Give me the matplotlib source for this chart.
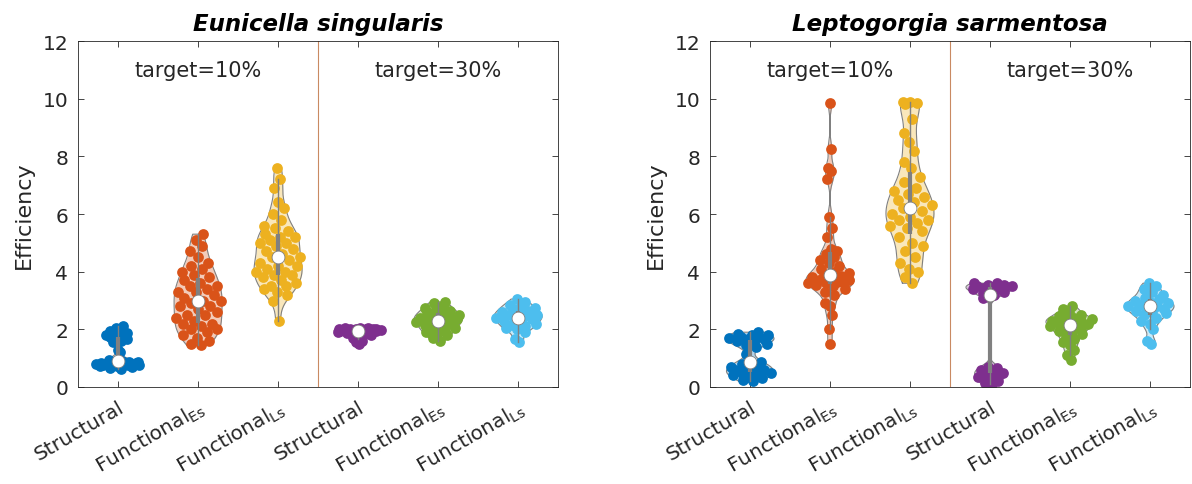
import numpy as np
import matplotlib
matplotlib.use('Agg')
import matplotlib.pyplot as plt

# category labels and panel titles
labels = ['Structural', 'Functional$_{\\mathregular{Es}}$', 'Functional$_{\\mathregular{Ls}}$',
          'Structural', 'Functional$_{\\mathregular{Es}}$', 'Functional$_{\\mathregular{Ls}}$']
titles = ['Eunicella singularis', 'Leptogorgia sarmentosa']
targets = ['target=10%', 'target=30%']
colors_ = ['#0072BD', '#D95319', '#EDB120', '#7E2F8E', '#77AC30', '#4DBEEE']

# Eunicella singularis, efficiency per run
es_struct10 = [0.62, 0.66, 0.7, 0.72, 0.74, 0.75, 0.76, 0.77, 0.78, 0.78, 0.79, 0.8, 0.8,
               0.8, 0.81, 0.82, 0.83, 0.84, 0.85, 0.86, 0.88, 0.9, 0.93, 1.2, 1.3,
               1.55, 1.6, 1.65, 1.68, 1.7, 1.72, 1.75, 1.78, 1.8, 1.82, 1.85, 1.88, 1.9,
               1.95, 2.0, 2.05, 2.1]
es_funcE10 = [1.45, 1.5, 1.6, 1.7, 1.8, 1.9, 2.0, 2.0, 2.1, 2.2, 2.2, 2.3, 2.4, 2.5, 2.5, 2.6,
              2.7, 2.8, 2.8, 2.9, 3.0, 3.0, 3.1, 3.2, 3.3, 3.3, 3.4, 3.5, 3.5, 3.6, 3.7, 3.8,
              3.9, 4.0, 4.1, 4.2, 4.3, 4.5, 4.7, 4.9, 5.1, 5.3]
es_funcL10 = [2.3, 3.0, 3.2, 3.3, 3.4, 3.5, 3.5, 3.6, 3.7, 3.8, 3.9, 3.9, 4.0, 4.0, 4.1, 4.2,
              4.2, 4.3, 4.4, 4.5, 4.5, 4.6, 4.7, 4.8, 4.9, 5.0, 5.0, 5.1, 5.2, 5.2, 5.3, 5.4,
              5.5, 5.6, 5.8, 6.0, 6.2, 6.4, 6.9, 7.2, 7.6]
es_struct30 = [1.5, 1.55, 1.6, 1.65, 1.7, 1.75, 1.8, 1.82, 1.85, 1.86, 1.87, 1.88, 1.9, 1.9,
               1.92, 1.93, 1.95, 1.95, 1.96, 1.97, 1.98, 1.98, 1.99, 2.0, 2.0, 2.0, 2.01,
               2.02, 2.02, 2.03, 2.04, 2.05]
es_funcE30 = [1.6, 1.7, 1.8, 1.85, 1.9, 1.95, 2.0, 2.05, 2.1, 2.15, 2.2, 2.2, 2.25, 2.3, 2.3,
              2.35, 2.4, 2.4, 2.45, 2.5, 2.5, 2.55, 2.6, 2.65, 2.7, 2.75, 2.8, 2.9, 2.95]
es_funcL30 = [1.55, 1.65, 1.9, 2.0, 2.05, 2.1, 2.15, 2.2, 2.25, 2.3, 2.35, 2.4, 2.4, 2.45,
              2.5, 2.5, 2.55, 2.6, 2.65, 2.7, 2.75, 2.8, 2.85, 2.95, 3.05]

# Leptogorgia sarmentosa, efficiency per run
ls_struct10 = [0.2, 0.25, 0.3, 0.35, 0.4, 0.45, 0.5, 0.5, 0.55, 0.6, 0.6, 0.65, 0.7, 0.75,
               0.8, 0.85, 0.9, 1.15, 1.4, 1.45, 1.5, 1.55, 1.6, 1.62, 1.65, 1.7, 1.72, 1.75,
               1.8, 1.82, 1.85, 1.9]
ls_funcE10 = [1.5, 2.0, 2.5, 2.8, 2.9, 3.2, 3.3, 3.4, 3.5, 3.55, 3.6, 3.6, 3.6, 3.65, 3.7,
              3.7, 3.75, 3.8, 3.85, 3.9, 3.95, 4.0, 4.1, 4.2, 4.3, 4.4, 4.5, 4.6, 4.7, 4.8,
              5.2, 5.5, 5.9, 7.2, 7.5, 7.6, 8.25, 9.85]
ls_funcL10 = [3.6, 3.8, 4.0, 4.1, 4.3, 4.5, 4.7, 4.9, 5.0, 5.2, 5.4, 5.5, 5.6, 5.7, 5.8, 5.8,
              5.9, 6.0, 6.1, 6.2, 6.3, 6.4, 6.5, 6.6, 6.7, 6.8, 6.9, 7.1, 7.3, 7.6, 7.8, 8.2,
              8.5, 8.8, 9.3, 9.8, 9.85, 9.9, 9.9]
ls_struct30 = [0.1, 0.15, 0.2, 0.3, 0.35, 0.4, 0.45, 0.5, 0.55, 0.6, 0.65, 0.7,
               3.1, 3.2, 3.25, 3.3, 3.35, 3.4, 3.4, 3.45, 3.5, 3.5, 3.5, 3.55, 3.55, 3.6, 3.6]
ls_funcE30 = [0.95, 1.1, 1.3, 1.45, 1.55, 1.65, 1.75, 1.85, 1.9, 1.95, 2.0, 2.05, 2.1, 2.15,
              2.2, 2.2, 2.25, 2.3, 2.3, 2.35, 2.35, 2.4, 2.45, 2.5, 2.6, 2.7, 2.8]
ls_funcL30 = [1.5, 1.6, 2.0, 2.2, 2.3, 2.4, 2.5, 2.55, 2.6, 2.65, 2.7, 2.75, 2.8, 2.8, 2.85,
              2.9, 2.95, 3.0, 3.05, 3.1, 3.2, 3.3, 3.4, 3.5, 3.6]

panels = [[es_struct10, es_funcE10, es_funcL10, es_struct30, es_funcE30, es_funcL30],
          [ls_struct10, ls_funcE10, ls_funcL10, ls_struct30, ls_funcE30, ls_funcL30]]
# kernel bandwidths used for each violin outline
bandwidths = [[0.13, 0.35, 0.35, 0.09, 0.15, 0.15],
              [0.15, 0.25, 0.45, 0.15, 0.15, 0.16]]


def kde(data, grid, bw):
    d = np.exp(-0.5 * ((grid[:, None] - data[None, :]) / bw) ** 2).sum(axis=1)
    return d / (len(data) * bw * np.sqrt(2 * np.pi))


def violin(ax, data, pos, color, bw, half=0.3):
    data = np.asarray(data, float)
    grid = np.linspace(data.min(), data.max(), 200)
    dens = kde(data, grid, bw)
    scale = half / dens.max()
    w = dens * scale
    ax.fill_betweenx(grid, pos - w, pos + w, color=color, alpha=0.3, lw=0, zorder=1)
    ax.plot(np.r_[pos - w, (pos + w)[::-1], pos - w[0]],
            np.r_[grid, grid[::-1], grid[0]], color='0.5', lw=0.8, zorder=1.5)
    # deterministic jitter inside the density
    k = np.arange(1, len(data) + 1)
    jit = 2 * ((k * 0.6180339887) % 1.0) - 1
    pw = kde(data, data, bw) * scale
    ax.scatter(pos + jit * pw, data, s=60, color=color, lw=0, zorder=2)
    q1, med, q3 = np.percentile(data, [25, 50, 75])
    iqr = q3 - q1
    lo = data[data >= q1 - 1.5 * iqr].min()
    hi = data[data <= q3 + 1.5 * iqr].max()
    ax.plot([pos, pos], [lo, hi], color='0.5', lw=1, zorder=3)
    ax.plot([pos, pos], [q1, q3], color='0.5', lw=3, solid_capstyle='butt', zorder=3)
    ax.scatter([pos], [med], s=85, color='white', edgecolor='0.5', lw=0.6, zorder=4)


fig = plt.figure(figsize=(11.92, 4.85), dpi=100)
lefts = [0.0655, 0.5956]
for p in range(2):
    ax = fig.add_axes([lefts[p], 0.2, 0.4027, 0.7134])
    for i, vals in enumerate(panels[p]):
        violin(ax, vals, i + 1, colors_[i], bandwidths[p][i])
    ax.axvline(3.5, color='#c98a62', lw=0.8, zorder=0.5)
    ax.text(2, 11, targets[0], ha='center', va='center', fontsize=15, color='#262626')
    ax.text(5, 11, targets[1], ha='center', va='center', fontsize=15, color='#262626')
    ax.set_xlim(0.5, 6.5)
    ax.set_ylim(0, 12)
    ax.set_yticks(range(0, 13, 2))
    ax.set_xticks(range(1, 7))
    ax.set_xticklabels(labels, rotation=30, ha='right', rotation_mode='anchor')
    ax.tick_params(direction='in', top=True, right=True, length=4, width=0.6,
                   labelsize=14.5, colors='#262626', pad=7)
    for s in ax.spines.values():
        s.set_color('#262626')
        s.set_linewidth(0.6)
    ax.set_ylabel('Efficiency', fontsize=16, color='#262626', labelpad=6)
    ax.set_title(titles[p], fontsize=16.5, fontweight='bold', fontstyle='italic', pad=8)

plt.savefig('out.png', dpi=100)
